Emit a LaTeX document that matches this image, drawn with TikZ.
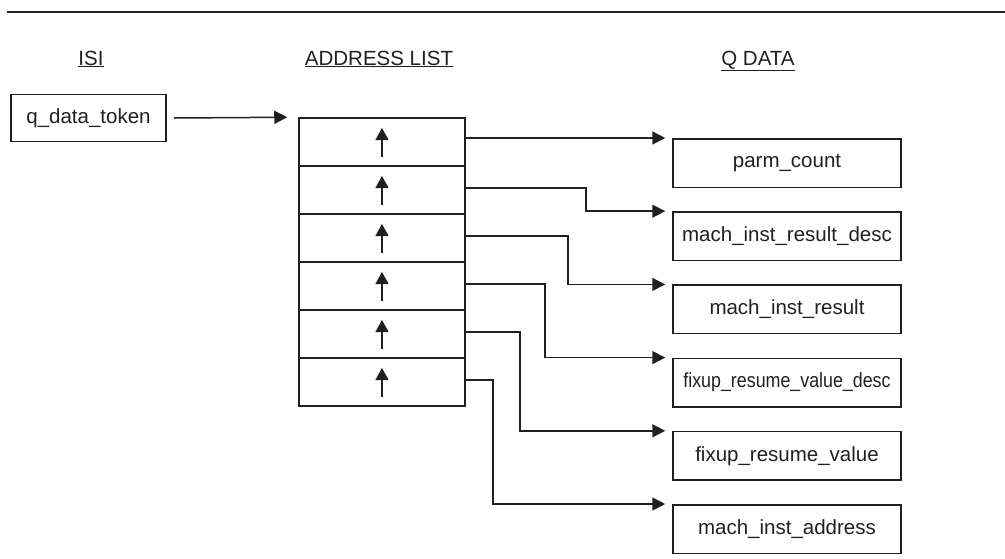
\documentclass[tikz,border=0pt]{standalone}
\usepackage{fontspec}
\setmainfont{Liberation Sans}
\usetikzlibrary{arrows.meta}
\definecolor{ink}{HTML}{231F20}

\begin{document}
\begin{tikzpicture}[x=1pt, y=-1pt,
    every node/.style={font=\fontsize{20.5}{24}\selectfont, text=ink},
    header/.style={anchor=base},
    tokenbox/.style={draw=ink, line width=1.5pt, minimum width=155pt, minimum height=47pt, inner sep=0pt},
    cellbox/.style={draw=ink, line width=1.5pt, minimum width=166pt, minimum height=48pt, inner sep=0pt},
    databox/.style={draw=ink, line width=1.5pt, minimum width=228pt, minimum height=48.5pt, inner sep=0pt},
    link/.style={draw=ink, line width=1.5pt, -{Triangle[length=13pt,width=13pt]}},
    pointer/.style={draw=ink, line width=1.5pt, -{Triangle[length=12pt,width=13pt]}}]
  \useasboundingbox (0,0) rectangle (1005,558);
  \draw[ink, line width=1.5pt] (7,12) -- (1005,12);

  \node[header] (isi) at (91,65) {\underline{ISI}};
  \node[header] (addr) at (379,65) {\underline{ADDRESS LIST}};
  \node[header] (qdata) at (758,65) {\underline{Q DATA}};

  \node[tokenbox] (token) at (88.5,118) {q\_data\_token};

  \foreach \i in {1,...,6} {
    \node[cellbox] (cell\i) at (382,{142+48*(\i-1)}) {};
    \draw[pointer] ([yshift=-15pt]cell\i.center) -- ([yshift=14pt]cell\i.center);
  }

  \draw[link] ([xshift=7pt]token.east) -- ([xshift=-11pt]cell1.north west);

  \foreach \key/\txt [count=\i] in {parm/parm\_count,
      resdesc/mach\_inst\_result\_desc,
      result/mach\_inst\_result,
      fixdesc/{\scalebox{0.87}[1]{fixup\_resume\_value\_desc}},
      fixval/fixup\_resume\_value,
      address/mach\_inst\_address} {
    \node[databox] (\key) at (787,{163+73.2*(\i-1)}) {\txt};
    \coordinate (in\i) at ([xshift=-7pt]\key.north west);
  }

  \draw[link] (cell1.east |- in1) -- (in1);
  \foreach \i/\bx in {2/586, 3/568, 4/545, 5/520, 6/493} {
    \coordinate (bend\i) at (\bx,0);
    \draw[link] ([yshift=2pt]cell\i.east) -| (bend\i |- in\i) -- (in\i);
  }
\end{tikzpicture}
\end{document}
